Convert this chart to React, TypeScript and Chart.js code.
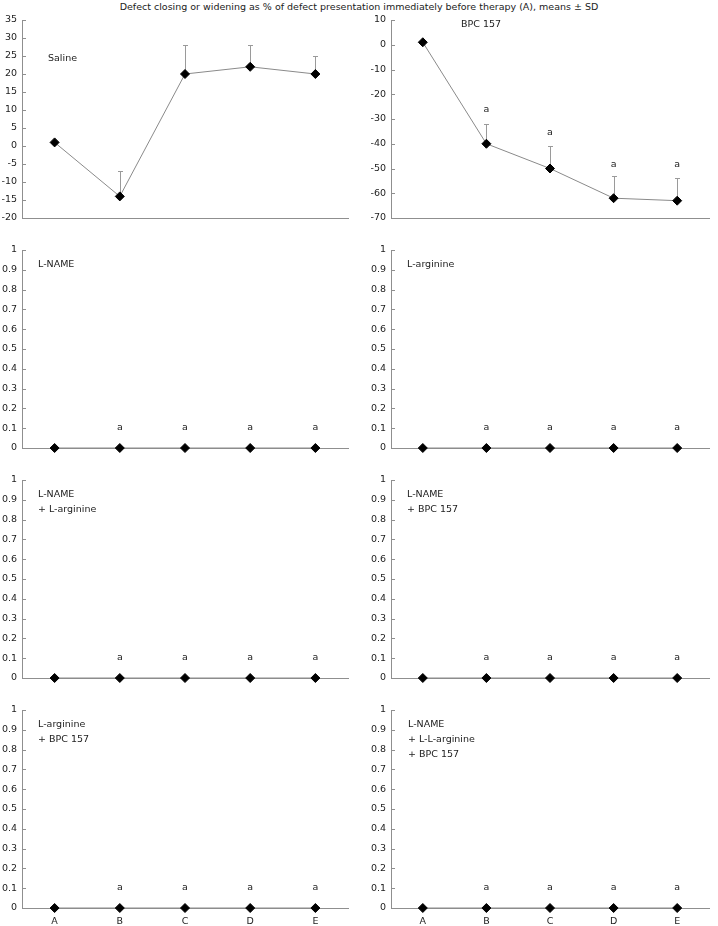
import React, { useEffect, useRef } from "react";
import { Chart, registerables } from "chart.js";
Chart.register(...registerables);

const FONT = '"DejaVu Sans", Verdana, sans-serif';
const FS = 9.5;

// ---------- data ----------
const CATEGORIES = ["A", "B", "C", "D", "E"];
const TITLE = "Defect closing or widening as % of defect presentation immediately before therapy (A), means \u00b1 SD";

const SALINE_MEAN = [1, -14, 20, 22, 20];
const SALINE_SD = [0, 7, 8, 6, 5];
const SALINE_SIG_AT: (number | null)[] = [null, null, null, null, null];
const SALINE_TICKS = [-20, -15, -10, -5, 0, 5, 10, 15, 20, 25, 30, 35];

const BPC_MEAN = [1, -40, -50, -62, -63];
const BPC_SD = [0, 8, 9, 9, 9];
const BPC_SIG_AT: (number | null)[] = [null, -26.5, -36, -49, -49];
const BPC_TICKS = [-70, -60, -50, -40, -30, -20, -10, 0, 10];

const LNAME_MEAN = [0, 0, 0, 0, 0];
const LARG_MEAN = [0, 0, 0, 0, 0];
const LNAME_LARG_MEAN = [0, 0, 0, 0, 0];
const LNAME_BPC_MEAN = [0, 0, 0, 0, 0];
const LARG_BPC_MEAN = [0, 0, 0, 0, 0];
const LNAME_LARG_BPC_MEAN = [0, 0, 0, 0, 0];
const ZERO_SD = [0, 0, 0, 0, 0];
const ZERO_SIG_AT: (number | null)[] = [null, 0.1, 0.1, 0.1, 0.1];
const FRACTION_TICKS = [0, 0.1, 0.2, 0.3, 0.4, 0.5, 0.6, 0.7, 0.8, 0.9, 1];

type PanelCfg = {
  label: string[];
  mean: number[];
  sd: number[];
  sig: (number | null)[];
  ticks: number[];
  col: number;
  row: number;
  lx: number;
  ly: number;
};

const PANELS: PanelCfg[] = [
  { label: ["Saline"], mean: SALINE_MEAN, sd: SALINE_SD, sig: SALINE_SIG_AT, ticks: SALINE_TICKS, col: 0, row: 0, lx: 26, ly: 39 },
  { label: ["BPC 157"], mean: BPC_MEAN, sd: BPC_SD, sig: BPC_SIG_AT, ticks: BPC_TICKS, col: 1, row: 0, lx: 70, ly: 5 },
  { label: ["L-NAME"], mean: LNAME_MEAN, sd: ZERO_SD, sig: ZERO_SIG_AT, ticks: FRACTION_TICKS, col: 0, row: 1, lx: 16, ly: 15 },
  { label: ["L-arginine"], mean: LARG_MEAN, sd: ZERO_SD, sig: ZERO_SIG_AT, ticks: FRACTION_TICKS, col: 1, row: 1, lx: 16, ly: 15 },
  { label: ["L-NAME", "+ L-arginine"], mean: LNAME_LARG_MEAN, sd: ZERO_SD, sig: ZERO_SIG_AT, ticks: FRACTION_TICKS, col: 0, row: 2, lx: 16, ly: 15 },
  { label: ["L-NAME", "+ BPC 157"], mean: LNAME_BPC_MEAN, sd: ZERO_SD, sig: ZERO_SIG_AT, ticks: FRACTION_TICKS, col: 1, row: 2, lx: 16, ly: 15 },
  { label: ["L-arginine", "+ BPC 157"], mean: LARG_BPC_MEAN, sd: ZERO_SD, sig: ZERO_SIG_AT, ticks: FRACTION_TICKS, col: 0, row: 3, lx: 16, ly: 15 },
  { label: ["L-NAME", "+ L-L-arginine", "+ BPC 157"], mean: LNAME_LARG_BPC_MEAN, sd: ZERO_SD, sig: ZERO_SIG_AT, ticks: FRACTION_TICKS, col: 1, row: 3, lx: 17, ly: 15 },
];

// ---------- layout ----------
const COL_LEFT = [0, 359];
const COL_W = [359, 359];
const AXIS_W = [22, 32];
const PAD_RIGHT = [11, 9];
const ROW_TOP = [0, 230, 460, 690];
const ROW_H = [230, 230, 230, 236];

const AXIS_COLOR = "#8f8f8f";
const TEXT_COLOR = "#222";

function Panel({ cfg }: { cfg: PanelCfg }) {
  const ref = useRef<HTMLCanvasElement>(null);
  const w = COL_W[cfg.col];
  const h = ROW_H[cfg.row];
  const bottom = cfg.row === 3;

  useEffect(() => {
    const extras = {
      id: "extras",
      beforeDatasetsDraw(chart: any) {
        const ctx = chart.ctx;
        const xs = chart.scales.x;
        const ys = chart.scales.y;
        ctx.save();
        // inward y ticks
        ctx.strokeStyle = AXIS_COLOR;
        ctx.lineWidth = 1;
        ys.ticks.forEach((_t: any, i: number) => {
          const y = Math.round(ys.getPixelForTick(i)) + 0.5;
          ctx.beginPath();
          ctx.moveTo(ys.right, y);
          ctx.lineTo(ys.right + 4, y);
          ctx.stroke();
        });
        // error bars (upper only)
        ctx.strokeStyle = "#9a9a9a";
        cfg.mean.forEach((m, i) => {
          const sd = cfg.sd[i];
          if (!sd) return;
          const x = Math.round(xs.getPixelForValue(i)) + 0.5;
          const y0 = ys.getPixelForValue(m);
          const y1 = Math.round(ys.getPixelForValue(m + sd)) + 0.5;
          ctx.beginPath();
          ctx.moveTo(x, y0);
          ctx.lineTo(x, y1);
          ctx.moveTo(x - 2.5, y1);
          ctx.lineTo(x + 2.5, y1);
          ctx.stroke();
        });
        ctx.restore();
      },
      afterDatasetsDraw(chart: any) {
        const ctx = chart.ctx;
        const xs = chart.scales.x;
        const ys = chart.scales.y;
        const area = chart.chartArea;
        ctx.save();
        ctx.fillStyle = TEXT_COLOR;
        ctx.font = `${FS}px ${FONT}`;
        ctx.textAlign = "center";
        ctx.textBaseline = "middle";
        cfg.sig.forEach((v, i) => {
          if (v === null) return;
          ctx.fillText("a", xs.getPixelForValue(i), ys.getPixelForValue(v) - 1);
        });
        ctx.textAlign = "left";
        cfg.label.forEach((line, k) => {
          ctx.fillText(line, area.left + cfg.lx, area.top + cfg.ly + k * 15);
        });
        ctx.restore();
      },
    };

    const chart = new Chart(ref.current!, {
      type: "line",
      data: {
        labels: CATEGORIES,
        datasets: [
          {
            data: cfg.mean,
            borderColor: "#8a8a8a",
            borderWidth: 1,
            pointStyle: "rectRot",
            pointRadius: 4.5,
            pointBackgroundColor: "#000",
            pointBorderColor: "#000",
            pointBorderWidth: 1,
            clip: false as any,
            tension: 0,
          },
        ],
      },
      options: {
        animation: false,
        responsive: false,
        events: [],
        layout: { padding: { top: 20, bottom: bottom ? 0 : 12, left: 0, right: PAD_RIGHT[cfg.col] } },
        plugins: { legend: { display: false }, tooltip: { enabled: false }, title: { display: false } },
        scales: {
          x: {
            type: "category",
            offset: true,
            grid: { display: false, drawTicks: false },
            border: { display: true, color: AXIS_COLOR, width: 1 },
            ticks: {
              display: bottom,
              color: TEXT_COLOR,
              font: { family: FONT, size: FS },
              padding: 8,
              maxRotation: 0,
              autoSkip: false,
            },
            afterFit: (s: any) => {
              s.height = bottom ? 18 : 0;
            },
          },
          y: {
            type: "linear",
            min: cfg.ticks[0],
            max: cfg.ticks[cfg.ticks.length - 1],
            grid: { display: false, drawTicks: false },
            border: { display: true, color: AXIS_COLOR, width: 1 },
            afterBuildTicks: (s: any) => {
              s.ticks = cfg.ticks.map((v) => ({ value: v }));
            },
            ticks: {
              color: TEXT_COLOR,
              font: { family: FONT, size: FS },
              padding: 5,
              callback: (v: any) => String(v),
            },
            afterFit: (s: any) => {
              s.width = AXIS_W[cfg.col];
            },
          },
        },
      },
      plugins: [extras],
    });
    return () => chart.destroy();
  }, []);

  return (
    <canvas
      ref={ref}
      width={w}
      height={h}
      style={{ position: "absolute", left: COL_LEFT[cfg.col], top: ROW_TOP[cfg.row], width: w, height: h }}
    />
  );
}

export default function App() {
  return (
    <div style={{ position: "absolute", left: 0, top: 0, width: 718, height: 926, background: "#fff", overflow: "hidden" }}>
      <div
        style={{
          position: "absolute",
          left: 0,
          top: 1,
          width: 718,
          textAlign: "center",
          fontFamily: FONT,
          fontSize: FS,
          lineHeight: "12px",
          color: TEXT_COLOR,
          whiteSpace: "nowrap",
        }}
      >
        {TITLE}
      </div>
      {PANELS.map((p, i) => (
        <Panel key={i} cfg={p} />
      ))}
    </div>
  );
}
